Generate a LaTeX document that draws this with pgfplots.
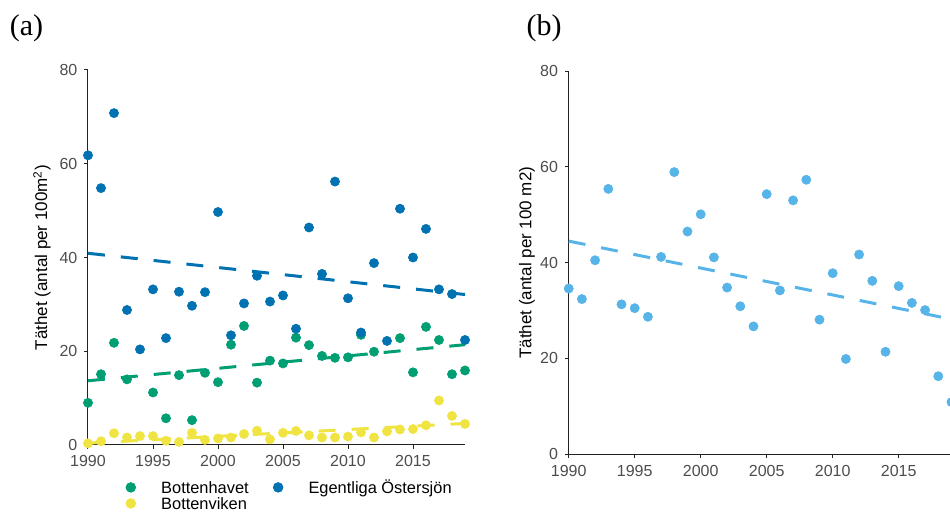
\documentclass[border=0pt]{standalone}
\usepackage{pgfplots}
\pgfplotsset{compat=1.18}
\usepackage{fontspec}
\setmainfont{Liberation Sans}
\newfontfamily\seriffont{Liberation Serif}
\definecolor{bh}{HTML}{009E73}
\definecolor{eo}{HTML}{0072B2}
\definecolor{bv}{HTML}{F0E442}
\definecolor{sb}{HTML}{56B4E9}
\definecolor{tickgray}{HTML}{4D4D4D}
\definecolor{axgray}{HTML}{222222}

\pgfplotsset{
  ggstyle/.style={
    scale only axis, axis lines=left,
    axis line style={-, color=axgray, line width=0.5pt},
    enlargelimits=false, clip=false,
    xmin=1990, xmax=2019, ymin=0, ymax=80,
    xtick={1990,1995,2000,2005,2010,2015}, ytick={0,20,40,60,80},
    tick align=outside, major tick length=1.8pt,
    tick style={color=axgray, line width=0.5pt},
    /pgf/number format/1000 sep={},
    /pgf/number format/assume math mode=true,
    tick label style={font=\fontsize{8}{9.6}\selectfont, text=tickgray},
    label style={font=\fontsize{8.5}{10}\selectfont, text=black},
  },
  pts/.style={only marks, mark=*, color=#1, mark size=2.3pt, mark options={solid, line width=0.3pt, fill=#1, draw=#1}, forget plot},
  trend/.style={no marks, color=#1, line width=1.5pt, dash pattern=on 8.5pt off 8pt, forget plot},
}

\begin{document}
\begin{tikzpicture}
\begin{axis}[ggstyle,
  at={(44pt,34.5pt)}, anchor=south west, width=188.5pt, height=187.5pt,
  ylabel={Täthet (antal per 100m\textsuperscript{2})},
  ylabel style={at={(axis description cs:-0.122,0.5)}, anchor=center},
  legend columns=2,
  legend image code/.code={\path (-14.5pt,0) (15pt,0); \fill (0,0.9pt) circle (2.4pt);},
  legend style={at={(axis description cs:0.0345,-0.0955)}, anchor=north west,
    draw=none, fill=none, inner sep=0pt, column sep=0pt, row sep=0pt,
    font=\fontsize{8.2}{9}\selectfont,
    nodes={inner sep=0pt, text height=6pt, text depth=2pt}},
  legend cell align=left,
]
% Bottenhavet
\addplot[pts=bh] coordinates {
(1990,9.0)(1991,15.1)(1992,21.8)(1993,14.0)(1995,11.2)(1996,5.7)(1997,14.9)
(1998,5.3)(1999,15.4)(2000,13.4)(2001,21.4)(2002,25.4)(2003,13.3)(2004,18.0)
(2005,17.4)(2006,22.9)(2007,21.3)(2008,19.0)(2009,18.6)(2010,18.7)(2011,23.5)
(2012,19.9)(2014,22.8)(2015,15.5)(2016,25.2)(2017,22.4)(2018,15.1)(2019,15.9)};
% Bottenviken
\addplot[pts=bv] coordinates {
(1990,0.35)(1991,0.8)(1992,2.5)(1993,1.6)(1994,1.9)(1995,1.9)(1996,0.9)(1997,0.65)
(1998,2.6)(1999,1.1)(2000,1.4)(2001,1.6)(2002,2.35)(2003,3.05)(2004,1.2)(2005,2.6)
(2006,3.0)(2007,2.05)(2008,1.6)(2009,1.6)(2010,1.8)(2011,2.7)(2012,1.6)(2013,2.9)
(2014,3.3)(2015,3.4)(2016,4.2)(2017,9.5)(2018,6.2)(2019,4.5)};
% Egentliga Östersjön
\addplot[pts=eo] coordinates {
(1990,61.8)(1991,54.8)(1992,70.8)(1993,28.8)(1994,20.4)(1995,33.2)(1996,22.8)
(1997,32.7)(1998,29.7)(1999,32.6)(2000,49.7)(2001,23.4)(2002,30.2)(2003,36.1)
(2004,30.6)(2005,31.9)(2006,24.8)(2007,46.4)(2008,36.5)(2009,56.2)(2010,31.3)
(2011,24.0)(2012,38.8)(2013,22.2)(2014,50.4)(2015,40.0)(2016,46.1)(2017,33.2)
(2018,32.2)(2019,22.4)};
\addplot[trend=bh] coordinates {(1990,13.7)(2019,21.4)};
\addplot[trend=bv] coordinates {(1990,0.4)(2019,4.6)};
\addplot[trend=eo] coordinates {(1990,40.9)(2019,32.1)};
\addlegendimage{color=bh}\addlegendentry{Bottenhavet}
\addlegendimage{color=eo}\addlegendentry{Egentliga Östersjön}
\addlegendimage{color=bv}\addlegendentry{Bottenviken}
\end{axis}

\begin{axis}[ggstyle,
  at={(284.35pt,29.85pt)}, anchor=south west, width=191.4pt, height=191.65pt,
  ylabel={Täthet (antal per 100 m2)},
  ylabel style={at={(axis description cs:-0.109,0.5)}, anchor=center},
]
\addplot[pts=sb] coordinates {
(1990,34.6)(1991,32.4)(1992,40.5)(1993,55.4)(1994,31.3)(1995,30.5)(1996,28.7)
(1997,41.2)(1998,58.9)(1999,46.5)(2000,50.1)(2001,41.1)(2002,34.8)(2003,30.9)
(2004,26.7)(2005,54.3)(2006,34.2)(2007,53.0)(2008,57.3)(2009,28.1)(2010,37.8)
(2011,19.9)(2012,41.7)(2013,36.2)(2014,21.4)(2015,35.1)(2016,31.6)(2017,30.1)
(2018,16.3)(2019,10.9)};
\addplot[trend=sb] coordinates {(1990,44.5)(2019,28.2)};
\end{axis}

\node[font=\seriffont\fontsize{15}{18}\selectfont] at (13.25pt,243pt) {(a)};
\node[font=\seriffont\fontsize{15}{18}\selectfont] at (272pt,243pt) {(b)};

\pgfresetboundingbox
\useasboundingbox (0,0) rectangle (475pt,257pt);
\end{tikzpicture}
\end{document}
